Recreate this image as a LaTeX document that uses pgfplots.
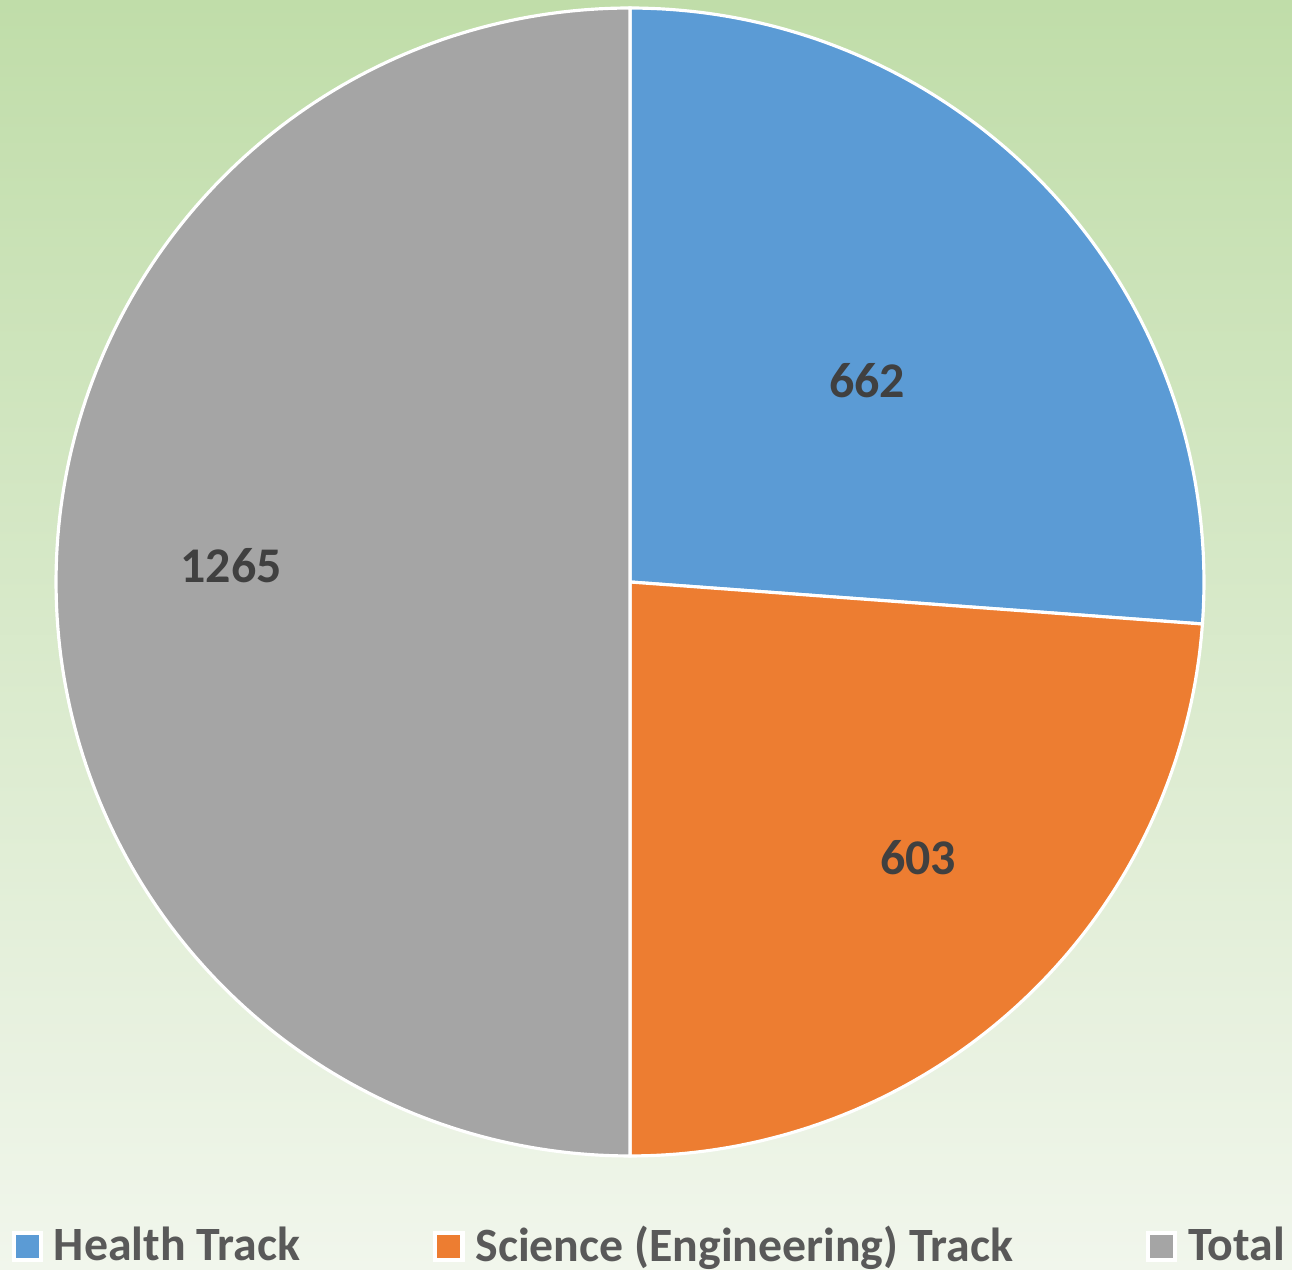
\documentclass[border=0pt]{standalone}
\usepackage{fontspec}
\setmainfont{Carlito}
\usepackage{pgfplots}
\usepackage{pgfplotstable}
\pgfplotsset{compat=1.18}
\definecolor{cHealth}{HTML}{5B9BD5}
\definecolor{cScience}{HTML}{ED7D31}
\definecolor{cTotal}{HTML}{A5A5A5}
\definecolor{bgTop}{RGB}{192,221,169}
\definecolor{bgMid}{RGB}{214,232,199}
\definecolor{bgBot}{RGB}{241,246,236}
\definecolor{lblText}{HTML}{404040}
\definecolor{legText}{HTML}{595959}

\pgfplotstableread{
name value
Health 662
Science 603
Total 1265
}\piedata

\begin{document}
\begin{tikzpicture}
\pgfplotstablegetelem{0}{value}\of\piedata \let\vA\pgfplotsretval
\pgfplotstablegetelem{1}{value}\of\piedata \let\vB\pgfplotsretval
\pgfplotstablegetelem{2}{value}\of\piedata \let\vC\pgfplotsretval
\pgfmathsetmacro\vSum{\vA+\vB+\vC}
\pgfmathsetmacro\aA{90-360*(\vA/\vSum)}
\pgfmathsetmacro\aB{\aA-360*(\vB/\vSum)}
\pgfmathsetmacro\aC{\aB-360*(\vC/\vSum)}

\shade[top color=bgTop, middle color=bgMid, bottom color=bgBot] (0,0) rectangle (129.2mm,127mm);
\useasboundingbox (0,0) rectangle (129.2mm,127mm);

\begin{axis}[
  at={(63mm,68.8mm)}, anchor=center,
  width=114.8mm, height=114.8mm, scale only axis,
  xmin=-1, xmax=1, ymin=-1, ymax=1,
  hide axis, clip=false,
  legend image code/.code={%
    \fill[white] (-0.35mm,-1.5mm) rectangle (2.65mm,1.5mm);
    \fill[#1,draw=none] (0mm,-1.15mm) rectangle (2.3mm,1.15mm);},
  legend columns=3,
  legend style={draw=none, fill=none, inner sep=0pt, outer sep=0pt,
    at={(axis cs:-1.0775,-1.193)}, anchor=south west,
    font=\fontsize{13.6}{16}\selectfont\bfseries, text=legText,
    nodes={inner sep=0pt},
    /tikz/every odd column/.style={column sep=1.1mm},
    /tikz/every even column/.style={column sep=13.3mm}},
  legend cell align=left,
]
\addplot[fill=cHealth, draw=white, line width=0.9pt, domain=\aA:90, samples=120, variable=\t, forget plot]
  ({cos(\t)},{sin(\t)}) -- (axis cs:0,0) -- cycle;
\addplot[fill=cScience, draw=white, line width=0.9pt, domain=\aB:\aA, samples=120, variable=\t, forget plot]
  ({cos(\t)},{sin(\t)}) -- (axis cs:0,0) -- cycle;
\addplot[fill=cTotal, draw=white, line width=0.9pt, domain=\aC:\aB, samples=180, variable=\t, forget plot]
  ({cos(\t)},{sin(\t)}) -- (axis cs:0,0) -- cycle;

\addlegendimage{fill=cHealth}
\addlegendentry{Health Track}
\addlegendimage{fill=cScience}
\addlegendentry{Science (Engineering) Track}
\addlegendimage{fill=cTotal}
\addlegendentry{Total}

\node[font=\fontsize{14.2}{17}\selectfont\bfseries, text=lblText] at (axis cs:0.413,0.350) {\vA};
\node[font=\fontsize{14.2}{17}\selectfont\bfseries, text=lblText] at (axis cs:0.502,-0.481) {\vB};
\node[font=\fontsize{14.2}{17}\selectfont\bfseries, text=lblText] at (axis cs:-0.695,0.028) {\vC};
\end{axis}
\end{tikzpicture}
\end{document}
